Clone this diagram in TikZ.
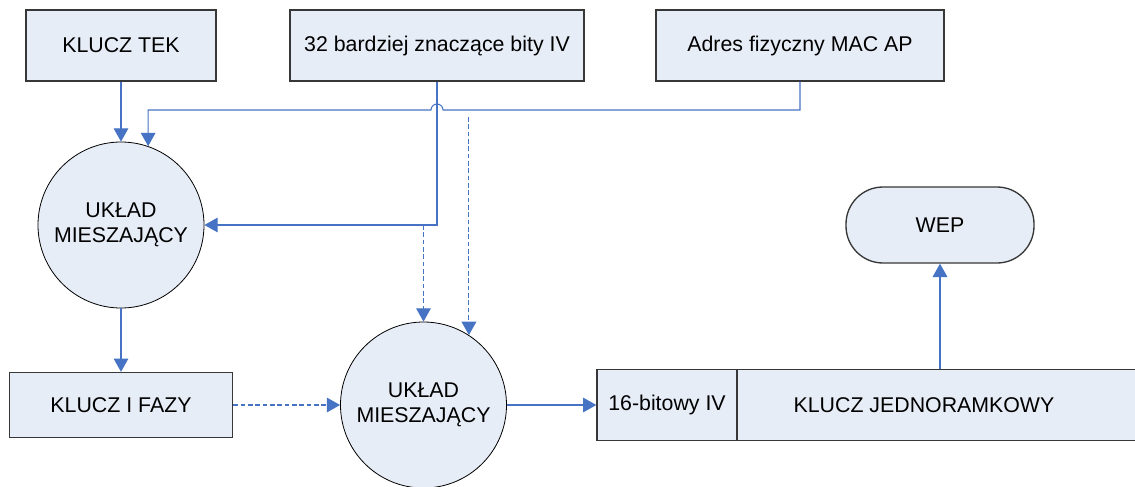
\documentclass[tikz,border=0pt]{standalone}
\usepackage{fontspec}
\setmainfont{Liberation Sans}
\usetikzlibrary{arrows.meta}
\newlength{\pxu}
\setlength{\pxu}{0.75pt}
\definecolor{boxfill}{RGB}{231,237,247}
\definecolor{boxline}{RGB}{55,55,55}
\definecolor{conn}{RGB}{70,115,195}
\tikzset{
  blockbox/.style={draw=boxline, line width=1pt, fill=boxfill, rectangle,
    inner sep=0pt, font=\fontsize{16}{19}\selectfont},
  mixer/.style={draw=black, line width=0.6pt, fill=boxfill, circle,
    minimum size=166\pxu, inner sep=0pt, align=center,
    font=\fontsize{16}{19}\selectfont},
  labeltext/.style={inner sep=0pt, font=\fontsize{16}{19}\selectfont},
  arr/.style={draw=conn, line width=0.8pt,
    -{Triangle[length=10pt,width=11pt,fill=conn]}},
  dashedarr/.style={arr, dash pattern=on 3.5pt off 2pt}
}
\begin{document}
\begin{tikzpicture}[x=0.75pt, y=-0.75pt]
  \useasboundingbox (0,0) rectangle (1135,486);

  % top row of inputs
  \node[blockbox, minimum width=190\pxu, minimum height=71\pxu] (tek) at (121,45.5) {KLUCZ TEK};
  \node[blockbox, minimum width=294\pxu, minimum height=71\pxu] (iv32) at (437,45.5) {32 bardziej znaczące bity IV};
  \node[blockbox, minimum width=288\pxu, minimum height=71\pxu] (mac) at (800,45.5) {Adres fizyczny MAC AP};

  % mixing stages
  \node[mixer] (c1) at (121,225) {UKŁAD\\MIESZAJĄCY};
  \node[mixer] (c2) at (423.5,405) {UKŁAD\\MIESZAJĄCY};

  % intermediate and output blocks
  \node[blockbox, minimum width=223\pxu, minimum height=65\pxu] (faz) at (121,405) {KLUCZ I FAZY};
  \node[blockbox, minimum width=140\pxu, minimum height=71.5\pxu] (iv16) at (667,405) {16-bitowy IV};
  \node[blockbox, minimum width=400\pxu, minimum height=71.5\pxu] (kj) at (937,405) {};
  \node[labeltext] (kjtext) at (924,405) {KLUCZ JEDNORAMKOWY};
  \node[blockbox, minimum width=188\pxu, minimum height=76\pxu, rounded corners=37\pxu] (wep) at (940,225) {WEP};

  % connectors into the first mixer
  \draw[arr] (tek.south) -- (c1.north);
  \draw[arr] (mac.south) -- (mac.south |- 0,110) -- (443,110)
    arc[start angle=0, end angle=-180, radius=6]
    -- (c1.71 |- 0,110) -- (c1.71);
  \draw[arr] (iv32.south) |- (c1.east);

  % connectors into the second mixer
  \coordinate (d1) at (c2.north |- c1.east);
  \coordinate (d2) at (c2.57 |- 0,117);
  \draw[dashedarr] (d1) -- (c2.north);
  \draw[dashedarr] (d2) -- (c2.57);
  \draw[arr] (c1.south) -- (faz.north);
  \draw[dashedarr] (faz.east) -- (c2.west);

  % outputs
  \draw[arr] (c2.east) -- (iv16.west);
  \draw[arr] (wep.south |- kj.north) -- (wep.south);
\end{tikzpicture}
\end{document}
